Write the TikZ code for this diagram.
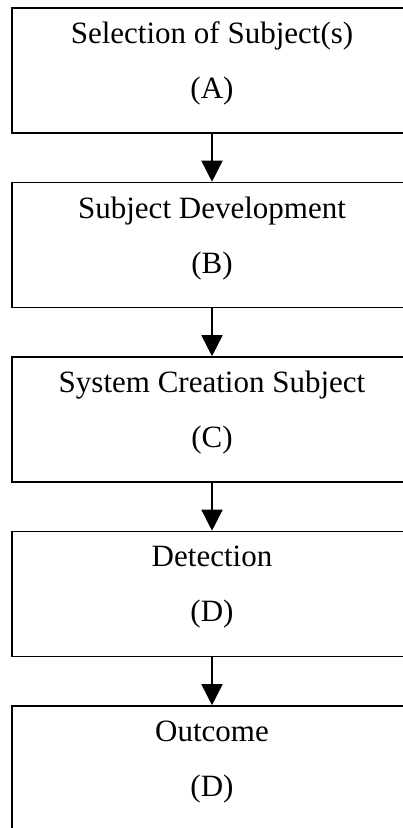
\documentclass[tikz,border=0pt]{standalone}
\usepackage{fontspec}
\setmainfont{Liberation Serif}
\usetikzlibrary{arrows.meta}

\begin{document}
\begin{tikzpicture}[x=1pt, y=-1pt,
    stagebox/.style={draw, line width=1.6pt, rectangle, minimum width=400pt,
      minimum height=125pt, align=center, inner sep=0pt, text depth=20pt,
      font=\fontsize{31}{55}\selectfont},
    flowarrow/.style={line width=1.6pt, -{Triangle[length=21pt,width=21pt]}}]

      \useasboundingbox (0,0) rectangle (403,828);

      \node[stagebox] (sel) at (212,70.5) {Selection of Subject(s)\\(A)};
      \node[stagebox] (dev) at (212,245) {Subject Development\\(B)};
      \node[stagebox] (sys) at (212,419.5) {System Creation Subject\\(C)};
      \node[stagebox] (det) at (212,594) {Detection\\(D)};
      \node[stagebox] (out) at (212,768.5) {Outcome\\(D)};

      \draw[flowarrow] (sel) -- (dev);
      \draw[flowarrow] (dev) -- (sys);
      \draw[flowarrow] (sys) -- (det);
      \draw[flowarrow] (det) -- (out);
    \end{tikzpicture}
\end{document}
